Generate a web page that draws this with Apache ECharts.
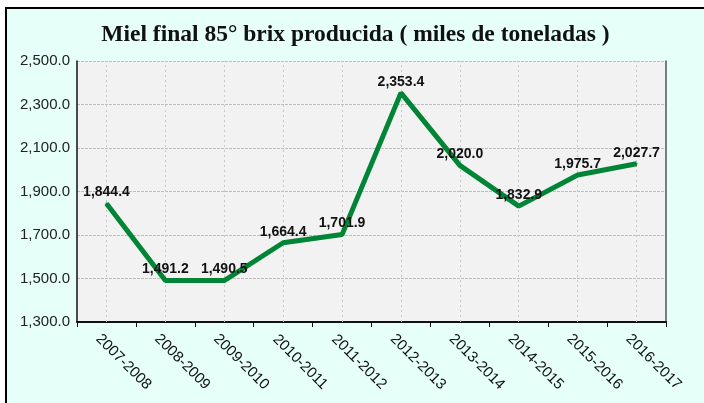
<!doctype html>
<html>
<head>
<meta charset="utf-8">
<title>Miel final 85° brix</title>
<style type="text/css">
html,body {
  margin:0;
  padding:0;
  background-color:#ffffff;
}
#chart {
  position:absolute;
  left:5px;
  top:7px;
  width:697px;
  height:394px;
  border-left:2px solid #000;
  border-top:2px solid #000;
  background-color:#e6fff9;
}
</style>
<script type="text/javascript" src="https://cdn.jsdelivr.net/npm/echarts@6/dist/echarts.min.js"></script>
</head>
<body>
<div id="chart"></div>
<script type="text/javascript">
// zafras y valores (miles de toneladas)
var zafras = ["2007-2008", "2008-2009", "2009-2010", "2010-2011", "2011-2012",
              "2012-2013", "2013-2014", "2014-2015", "2015-2016", "2016-2017"];
var miel = [1844.4, 1491.2, 1490.5, 1664.4, 1701.9, 2353.4, 2020.0, 1832.9, 1975.7, 2027.7];

var fmt = function(v) {
    return Number(v).toLocaleString("en-US", {minimumFractionDigits: 1, maximumFractionDigits: 1});
};

var myChart = echarts.init(document.getElementById('chart'));

var option = {
    backgroundColor: 'transparent',
    animation: false,
    title: {
        text: "Miel final 85° brix producida ( miles de toneladas )",
        left: 'center',
        top: 9,
        textStyle: {
            fontFamily: 'Liberation Serif',
            fontWeight: 'bold',
            fontSize: 23.5,
            color: '#111'
        }
    },
    grid: {
        left: 70,
        right: 38,
        top: 52,
        bottom: 81,
        show: true,
        backgroundColor: '#f2f2f2',
        borderWidth: 0
    },
    xAxis: {
        type: 'category',
        data: zafras,
        boundaryGap: true,
        axisLine: { lineStyle: { color: '#111', width: 2 } },
        axisTick: { show: true, length: 5, lineStyle: { color: '#111' } },
        axisLabel: {
            interval: 0,
            rotate: -45,
            align: 'center',
            verticalAlign: 'middle',
            margin: 23,
            padding: [0, 0, 0, 48],
            fontFamily: 'Liberation Sans',
            fontSize: 15,
            color: '#111'
        },
        splitLine: { show: false }
    },
    yAxis: [{
        type: 'value',
        min: 1300,
        max: 2500,
        interval: 200,
        axisLine: { show: true, lineStyle: { color: '#111', width: 1.5 } },
        axisTick: { show: false },
        axisLabel: {
            formatter: fmt,
            fontFamily: 'Liberation Sans',
            fontSize: 15,
            color: '#222',
            margin: 7
        },
        splitLine: { show: true, lineStyle: { color: '#bdbdbd', type: [3, 1], width: 1 } }
    }, {
        type: 'value',
        position: 'right',
        min: 1300,
        max: 2500,
        axisLine: { show: true, lineStyle: { color: '#555', width: 1.5 } },
        axisTick: { show: false },
        axisLabel: { show: false },
        splitLine: { show: false }
    }],
    series: [{
        type: 'line',
        data: miel,
        symbol: 'circle',
        symbolSize: 2,
        showSymbol: true,
        itemStyle: { color: '#008537' },
        lineStyle: { color: '#008537', width: 5 },
        label: {
            show: true,
            position: 'top',
            distance: 3,
            formatter: function(p) { return fmt(p.value); },
            fontFamily: 'Liberation Sans',
            fontWeight: 'bold',
            fontSize: 14,
            color: '#111'
        },
        markLine: {
            silent: true,
            symbol: 'none',
            label: { show: false },
            lineStyle: { color: '#c8c8c8', type: [2, 3], width: 1 },
            data: zafras.map(function(z) { return { xAxis: z }; }),
            z: 1
        },
        z: 3
    }]
};
myChart.setOption(option);
</script>
</body>
</html>
